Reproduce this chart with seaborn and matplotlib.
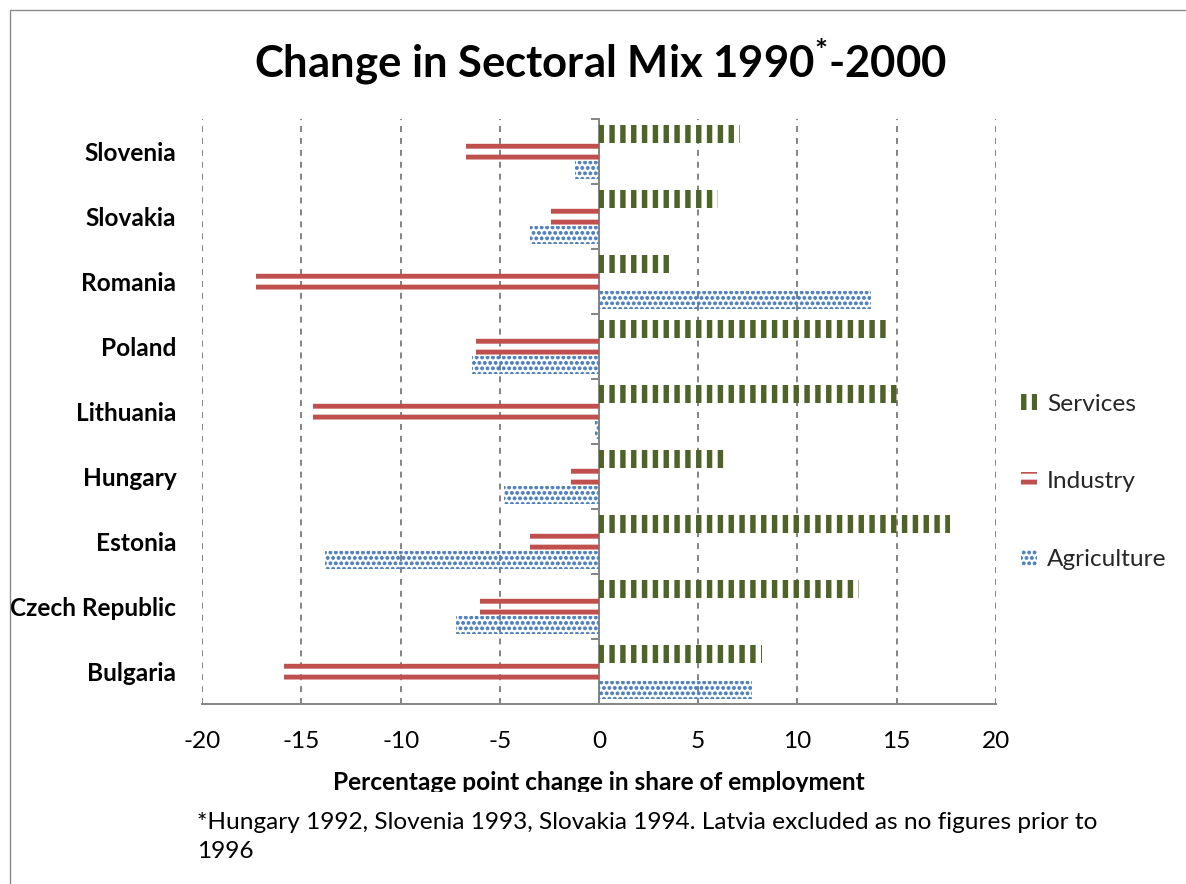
import numpy as np
import pandas as pd
import matplotlib
matplotlib.use("Agg")
import matplotlib.pyplot as plt
import matplotlib.hatch as mhatch
import seaborn as sns
from matplotlib.patches import Patch, Rectangle

# ---- data -----------------------------------------------------------------
countries = ["Slovenia", "Slovakia", "Romania", "Poland", "Lithuania",
             "Hungary", "Estonia", "Czech Republic", "Bulgaria"]
services = [7.1, 6.0, 3.6, 14.6, 15.1, 6.3, 17.7, 13.1, 8.2]
industry = [-6.7, -2.4, -17.3, -6.2, -14.4, -1.4, -3.5, -6.0, -15.9]
agriculture = [-1.2, -3.5, 13.7, -6.4, -0.2, -4.8, -13.8, -7.2, 7.7]
sectors = ["Services", "Industry", "Agriculture"]
x_ticks = [-20, -15, -10, -5, 0, 5, 10, 15, 20]

title_text = "Change in Sectoral Mix 1990$^{*}$-2000"
x_title = "Percentage point change in share of employment"
footnote = ("*Hungary 1992, Slovenia 1993, Slovakia 1994. Latvia excluded as no figures prior to\n"
            "1996")

# ---- styling ----------------------------------------------------------------
colors = {"Services": "#4F6228", "Industry": "#C0504D", "Agriculture": "#4F81BD"}
hatches = {"Services": "||", "Industry": "--", "Agriculture": "...."}
hatch_lw = {"Services": 3.0, "Industry": 2.7, "Agriculture": 0.5}
GRAY = "#868686"

W, H, DPI = 1186, 884, 130
sns.set_theme(style="white")
plt.rcParams["font.family"] = ["Lato", "DejaVu Sans"]
plt.rcParams["mathtext.default"] = "regular"
plt.rcParams["lines.scale_dashes"] = False
mhatch.SmallFilledCircles.size = 0.27

FS = 13.5

df = pd.DataFrame({
    "Country": countries * 3,
    "Sector": [s for s in sectors for _ in countries],
    "Change": services + industry + agriculture,
})

fig = plt.figure(figsize=(W / DPI, H / DPI), dpi=DPI)
fig.patch.set_facecolor("white")
ax = fig.add_axes([202.3 / W, (H - 704.2) / H, (995.7 - 202.3) / W, 585 / H])

sns.barplot(data=df, y="Country", x="Change", hue="Sector", order=countries,
            hue_order=sectors, orient="h", width=0.835, dodge=True,
            palette=colors, saturation=1, linewidth=0, legend=False, ax=ax)

# pattern fills for each series
for container, sector in zip(ax.containers, sectors):
    for bar in container:
        bar.set_facecolor("none")
        bar.set_edgecolor(colors[sector])
        bar.set_linewidth(0)
        bar.set_hatch(hatches[sector])
        if hasattr(bar, "set_hatch_linewidth"):
            bar.set_hatch_linewidth(hatch_lw[sector])

ax.set_xlim(-20, 20)
ax.set_xticks(x_ticks)
ax.set_xticklabels([str(v) for v in x_ticks])
ax.set_ylabel("")
ax.set_xlabel(x_title, fontsize=FS, fontweight="bold", labelpad=10.3, color="black")

for side in ["top", "right", "left"]:
    ax.spines[side].set_visible(False)
ax.spines["bottom"].set_color(GRAY)
ax.spines["bottom"].set_linewidth(1.1)

ax.set_axisbelow(True)
ax.xaxis.grid(True, color=GRAY, linewidth=1.1, linestyle=(0, (3.3, 3.3)))
ax.yaxis.grid(False)
ax.tick_params(axis="x", direction="inout", length=7, width=1.1, color=GRAY,
               labelsize=FS, pad=11.5, labelcolor="black")
ax.tick_params(axis="y", length=0, pad=14.4, labelsize=FS, labelcolor="black")
for lbl in ax.get_yticklabels():
    lbl.set_fontweight("bold")

# vertical axis line at zero with marks between the country groups
sec = ax.secondary_yaxis(0.5)
sec.set_alignment("left")
sec.set_yticks(np.arange(-0.5, len(countries), 1.0))
sec.tick_params(axis="y", direction="out", length=4.4, width=1.1, color=GRAY,
                labelleft=False, labelright=False)
sec.spines["left"].set_color(GRAY)
sec.spines["left"].set_linewidth(1.1)

# legend
handles = [Patch(facecolor="none", edgecolor=colors[s], hatch=hatches[s], linewidth=0)
           for s in sectors]
leg = fig.legend(handles, sectors, loc="center left", bbox_to_anchor=(1021 / W, 1 - 482 / H),
                 frameon=False, handlelength=0.64, handleheight=0.64, handletextpad=0.43,
                 labelspacing=2.33, fontsize=FS, borderaxespad=0, borderpad=0)
for h, s in zip(leg.legend_handles, sectors):
    if hasattr(h, "set_hatch_linewidth"):
        h.set_hatch_linewidth(hatch_lw[s])

# title
fig.text(600 / W, 1 - 62 / H, title_text, ha="center", va="center",
         fontsize=24.2, fontweight="bold", color="black")

# footnote box covering the lower area
fig.patches.append(Rectangle((180 / W, 0), 940 / W, (H - 792) / H,
                             transform=fig.transFigure, facecolor="white",
                             edgecolor="none", zorder=5))
fig.text(197 / W, 1 - 812 / H, footnote, ha="left", va="top", fontsize=FS,
         linespacing=1.5, color="black", zorder=6)

# chart-area border
fig.patches.append(Rectangle((10 / W, -0.05), 1.2, 1.05 - 10 / H,
                             transform=fig.transFigure, fill=False,
                             edgecolor="#898989", linewidth=0.75, zorder=7))

fig.savefig("out.png", dpi=DPI, facecolor="white")
